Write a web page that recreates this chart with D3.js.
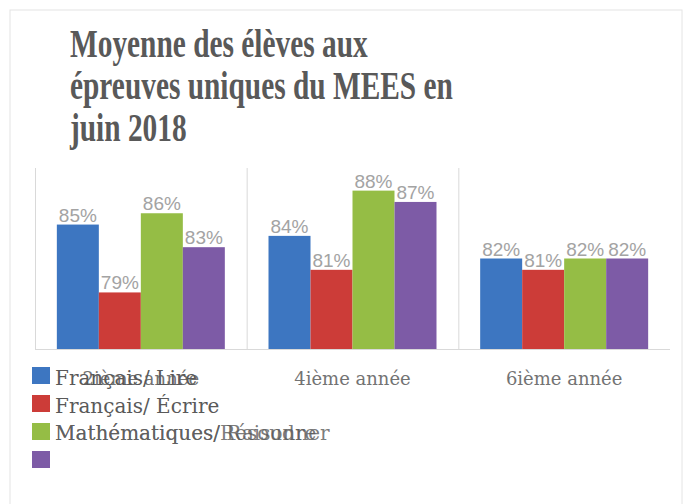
<!DOCTYPE html>
<html>
<head>
<meta charset="utf-8">
<script src="https://cdn.jsdelivr.net/npm/d3@7"></script>
<style>
  body { margin: 0; background: #fff; }
  svg { display: block; }
</style>
</head>
<body>
<div id="chart"></div>
<script>
// data
var titleLines = ["Moyenne des élèves aux", "épreuves uniques du MEES en", "juin 2018"];
var categories = ["2ième année", "4ième année", "6ième année"];
var series = ["Français/ Lire", "Français/ Écrire", "Mathématiques/ Raisonner", "Mathématiques/Résoudre"];
var colors = ["#3d76c1", "#cc3c38", "#95bd45", "#7d5ba6"];
var values = [
  [85, 84, 82], // Français/ Lire
  [79, 81, 81], // Français/ Écrire
  [86, 88, 82], // Mathématiques/ Raisonner
  [83, 87, 82]  // Mathématiques/Résoudre
];

var width = 690, height = 504;
var plot = {left: 35, right: 670, top: 168, bottom: 349};

var svg = d3.select("#chart").append("svg")
  .attr("width", width)
  .attr("height", height);

// outer frame
svg.append("rect")
  .attr("x", 10).attr("y", 10)
  .attr("width", 672).attr("height", 520)
  .attr("fill", "#fff")
  .attr("stroke", "#e4e4e4");

// title, squeezed a bit to look like a narrow serif
var title = svg.append("g").attr("class", "title");
title.selectAll("text")
  .data(titleLines)
  .enter().append("text")
  .attr("x", 0)
  .attr("y", function(d, i) { return 57 + i * 42; })
  .attr("font-family", "Liberation Serif, serif")
  .attr("font-weight", "bold")
  .attr("font-size", 40)
  .attr("fill", "#595959")
  .text(function(d) { return d; });
var w2 = title.selectAll("text").nodes()[1].getComputedTextLength();
title.attr("transform", "translate(70,0) scale(" + (383 / w2) + ",1)");

var x = d3.scaleBand()
  .domain(categories)
  .range([plot.left, plot.right]);

var xs = d3.scaleBand()
  .domain(series)
  .range([0, x.bandwidth()])
  .paddingOuter(0.52);

var y = d3.scaleLinear()
  .domain([74, 90])
  .range([plot.bottom, plot.top]);

// category separators
svg.append("g").selectAll("line")
  .data(categories)
  .enter().append("line")
  .attr("x1", function(d) { return x(d) + 0.5; })
  .attr("x2", function(d) { return x(d) + 0.5; })
  .attr("y1", plot.top)
  .attr("y2", plot.bottom)
  .attr("stroke", "#d9d9d9");

// bars
var groups = svg.append("g").selectAll("g")
  .data(series)
  .enter().append("g")
  .attr("fill", function(d, i) { return colors[i]; });

groups.selectAll("rect")
  .data(function(s, si) {
    return values[si].map(function(v, ci) { return {s: s, c: categories[ci], v: v}; });
  })
  .enter().append("rect")
  .attr("x", function(d) { return x(d.c) + xs(d.s); })
  .attr("width", xs.bandwidth())
  .attr("y", function(d) { return y(d.v); })
  .attr("height", function(d) { return plot.bottom - y(d.v); });

groups.selectAll("text")
  .data(function(s, si) {
    return values[si].map(function(v, ci) { return {s: s, c: categories[ci], v: v}; });
  })
  .enter().append("text")
  .attr("x", function(d) { return x(d.c) + xs(d.s) + xs.bandwidth() / 2; })
  .attr("y", function(d) { return y(d.v) - 3; })
  .attr("text-anchor", "middle")
  .attr("font-family", "Liberation Sans, sans-serif")
  .attr("font-size", 19)
  .attr("fill", "#a3a3a3")
  .text(function(d) { return d.v + "%"; });

// axis line
svg.append("line")
  .attr("x1", plot.left).attr("x2", plot.right)
  .attr("y1", plot.bottom + 0.5).attr("y2", plot.bottom + 0.5)
  .attr("stroke", "#d9d9d9");

// category labels
svg.append("g").selectAll("text")
  .data(categories)
  .enter().append("text")
  .attr("x", function(d) { return x(d) + x.bandwidth() / 2; })
  .attr("y", 385)
  .attr("text-anchor", "middle")
  .attr("font-family", "DejaVu Serif, serif")
  .attr("font-size", 18)
  .attr("fill", "#737373")
  .text(function(d) { return d; });

// legend (the last label sits on the third row, as in the source picture)
var legend = svg.append("g").selectAll("g")
  .data(series)
  .enter().append("g");

legend.append("rect")
  .attr("x", 32)
  .attr("y", function(d, i) { return 367 + i * 28; })
  .attr("width", 18)
  .attr("height", 17)
  .attr("fill", function(d, i) { return colors[i]; });

legend.append("text")
  .attr("x", 55)
  .attr("y", function(d, i) { return 385 + Math.min(i, 2) * 27.5; })
  .attr("font-family", "DejaVu Serif, serif")
  .attr("font-size", 20)
  .attr("fill", "#595959")
  .attr("fill-opacity", function(d, i) { return i >= 2 ? 0.8 : 1; })
  .text(function(d) { return d; });
</script>
</body>
</html>
